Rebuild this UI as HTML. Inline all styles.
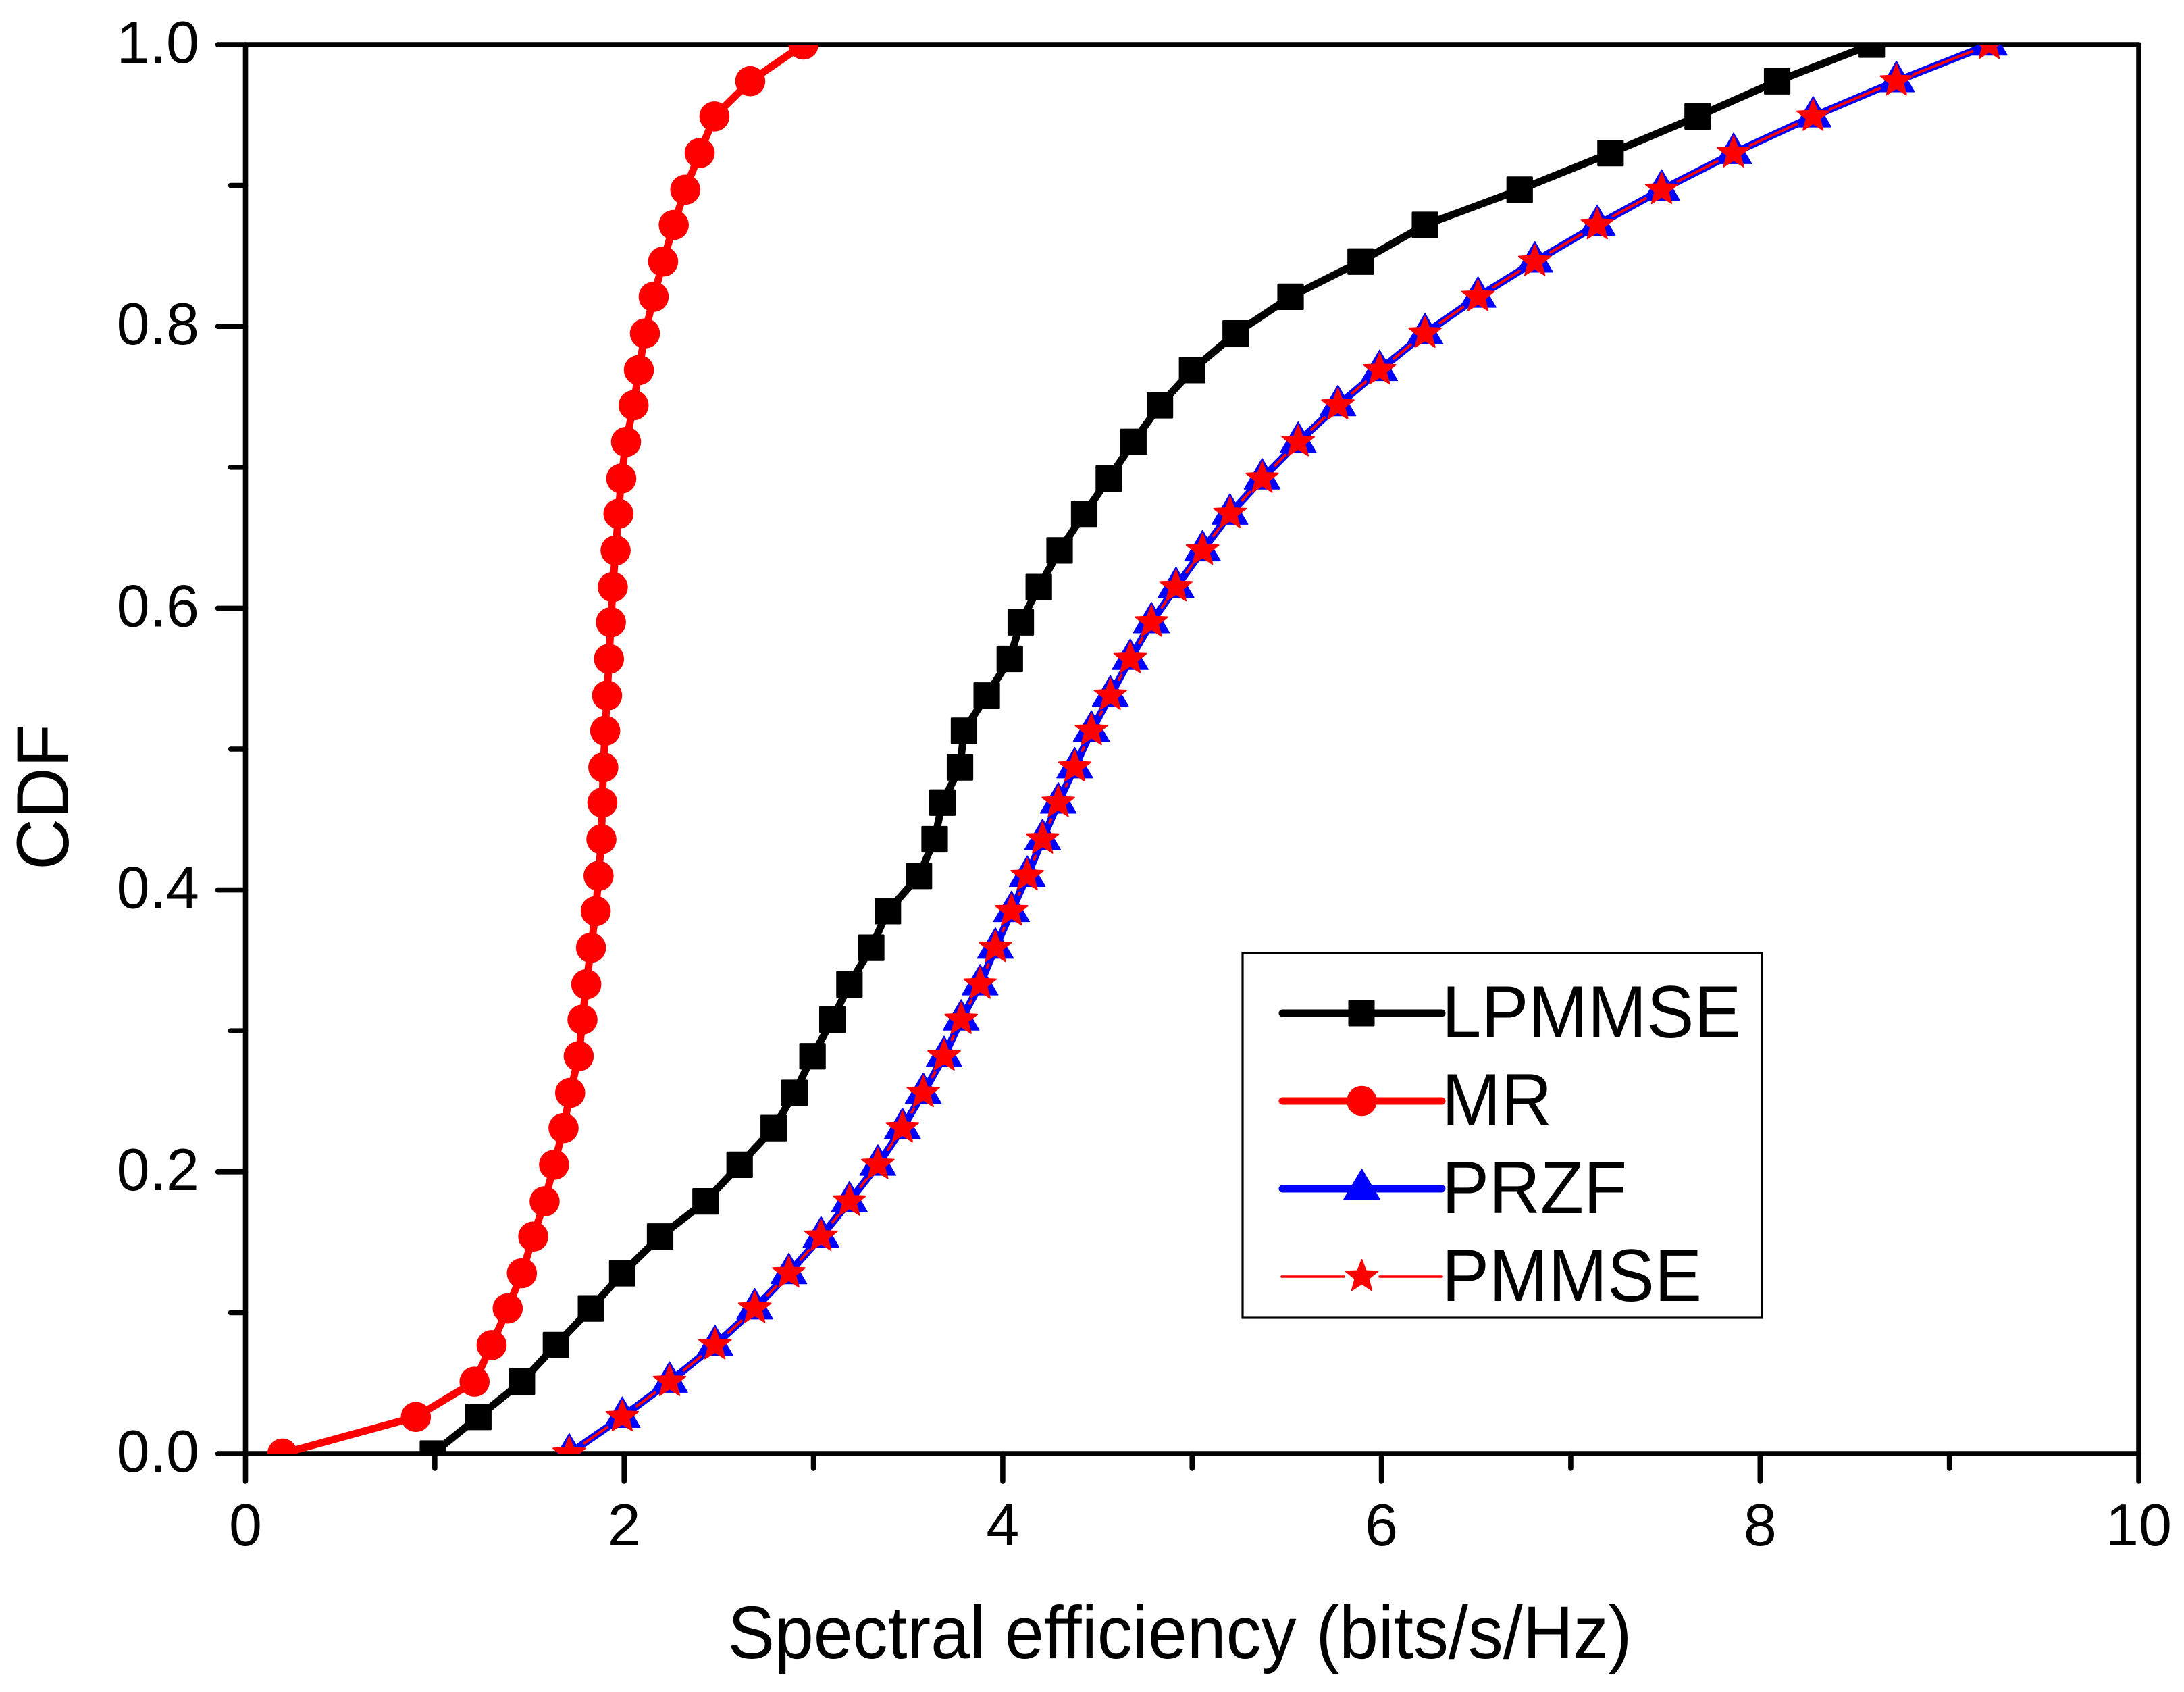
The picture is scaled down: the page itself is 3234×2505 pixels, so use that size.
<!DOCTYPE html>
<html lang="en">
<head>
<meta charset="utf-8">
<title>CDF of spectral efficiency</title>
<style>
html,body{margin:0;padding:0;background:#fff;}
svg{display:block;}
text{font-family:"Liberation Sans",Arial,sans-serif;fill:#000;}
</style>
</head>
<body>
<svg id="chart" xmlns="http://www.w3.org/2000/svg" width="3234" height="2505" viewBox="0 0 3234 2505">
  <defs>
    <clipPath id="plot-clip"><rect x="363.5" y="66" width="2803.5" height="2086"/></clipPath>
  </defs>
  <rect x="0" y="0" width="3234" height="2505" fill="#fff"/>
  <g id="axes"></g>
  <g id="series" clip-path="url(#plot-clip)"></g>
  <text x="0" y="0" font-size="110" text-anchor="middle" transform="translate(1747 2455) scale(.9455 1)">Spectral efficiency (bits/s/Hz)</text>
  <text x="0" y="0" font-size="110" text-anchor="middle" transform="translate(101 1180) rotate(-90) scale(.9545 1)">CDF</text>
  <g id="legend">
    <rect x="1840" y="1411" width="769" height="540" fill="#fff" stroke="#000" stroke-width="3.2"/>
    <g>
      <line x1="1899" y1="1500" x2="2135" y2="1500" stroke="#000" stroke-width="11" stroke-linecap="round"/>
      <rect x="1996.5" y="1480.5" width="39" height="39" rx="1.5" fill="#000"/>
      <text x="0" y="0" font-size="110" transform="translate(2135 1536) scale(.9545 1)">LPMMSE</text>
    </g>
    <g>
      <line x1="1899" y1="1630" x2="2135" y2="1630" stroke="#f00" stroke-width="11" stroke-linecap="round"/>
      <circle cx="2016.5" cy="1630" r="22.3" fill="#f00"/>
      <text x="0" y="0" font-size="110" transform="translate(2135 1666) scale(.9545 1)">MR</text>
    </g>
    <g>
      <line x1="1899" y1="1760" x2="2135" y2="1760" stroke="#00f" stroke-width="11" stroke-linecap="round"/>
      <polygon points="2016.5,1731 2043,1775.5 1990,1775.5" fill="#00f" stroke="#00f" stroke-width="1.5" stroke-linejoin="round"/>
      <text x="0" y="0" font-size="110" transform="translate(2135 1796) scale(.9545 1)">PRZF</text>
    </g>
    <g>
      <line x1="1898" y1="1890" x2="1990" y2="1890" stroke="#f00" stroke-width="3.6" stroke-linecap="round"/>
      <line x1="2043" y1="1890" x2="2135" y2="1890" stroke="#f00" stroke-width="3.6" stroke-linecap="round"/>
      <polygon id="legend-star" fill="#f00" stroke="#f00" stroke-width="2" stroke-linejoin="round"/>
      <text x="0" y="0" font-size="110" transform="translate(2135 1926) scale(.9545 1)">PMMSE</text>
    </g>
  </g>
</svg>
<script>
const cdfLevels = [0.000,0.026,0.051,0.077,0.103,0.128,0.154,0.179,0.205,0.231,0.256,0.282,0.308,0.333,0.359,0.385,0.410,0.436,0.462,0.487,0.513,0.538,0.564,0.590,0.615,0.641,0.667,0.692,0.718,0.744,0.769,0.795,0.821,0.846,0.872,0.897,0.923,0.949,0.974,1.000];
const lpmmseValues = [0.99,1.23,1.46,1.64,1.825,1.99,2.19,2.43,2.61,2.79,2.90,2.995,3.10,3.19,3.305,3.393,3.557,3.640,3.681,3.774,3.795,3.915,4.037,4.095,4.19,4.30,4.43,4.56,4.69,4.83,5.00,5.23,5.52,5.89,6.23,6.73,7.21,7.67,8.09,8.59];
const mrValues = [0.195,0.90,1.21,1.30,1.385,1.46,1.52,1.58,1.63,1.68,1.715,1.76,1.78,1.80,1.825,1.85,1.865,1.88,1.885,1.89,1.90,1.91,1.92,1.93,1.94,1.955,1.97,1.985,2.01,2.05,2.078,2.110,2.156,2.206,2.262,2.323,2.399,2.477,2.666,2.947];
const przfValues = [1.71,1.99,2.24,2.48,2.69,2.87,3.04,3.19,3.34,3.47,3.58,3.69,3.78,3.88,3.961,4.046,4.129,4.21,4.293,4.38,4.468,4.568,4.673,4.785,4.915,5.055,5.20,5.37,5.56,5.77,5.99,6.23,6.51,6.81,7.14,7.48,7.86,8.28,8.72,9.21];
const pmmseValues = [1.71,1.99,2.24,2.48,2.69,2.87,3.04,3.19,3.34,3.47,3.58,3.69,3.78,3.88,3.961,4.046,4.129,4.21,4.293,4.38,4.468,4.568,4.673,4.785,4.915,5.055,5.20,5.37,5.56,5.77,5.99,6.23,6.51,6.81,7.14,7.48,7.86,8.28,8.72,9.21];
const xTickValues = [0,2,4,6,8,10];
const xTickLabels = ["0","2","4","6","8","10"];
const xMinorTickValues = [1,3,5,7,9];
const yTickValues = [0,0.2,0.4,0.6,0.8,1.0];
const yTickLabels = ["0.0","0.2","0.4","0.6","0.8","1.0"];
const yMinorTickValues = [0.1,0.3,0.5,0.7,0.9];

const NS = 'http://www.w3.org/2000/svg';
const X0 = 363.5, X1 = 3167, Y0 = 2152, Y1 = 66;
function xScale(v){ return X0 + (v / 10) * (X1 - X0); }
function yScale(v){ return Y0 - v * (Y0 - Y1); }
function make(tag, attrs, parent){
  const el = document.createElementNS(NS, tag);
  for (const k in attrs) el.setAttribute(k, attrs[k]);
  parent.appendChild(el);
  return el;
}
function starPoints(cx, cy, R, r){
  const pts = [];
  for (let i = 0; i < 10; i++){
    const a = -Math.PI / 2 + i * Math.PI / 5;
    const rad = i % 2 === 0 ? R : r;
    pts.push((cx + rad * Math.cos(a)).toFixed(2) + ',' + (cy + rad * Math.sin(a)).toFixed(2));
  }
  return pts.join(' ');
}

const axesGroup = document.getElementById('axes');
const axisStyle = {stroke:'#000','stroke-width':7.6,'stroke-linecap':'round',fill:'none'};

const leftAxis = make('line', Object.assign({x1:X0,y1:Y1,x2:X0,y2:Y0}, axisStyle), axesGroup);


const bottomAxis = make('line', Object.assign({x1:X0,y1:Y0,x2:X1,y2:Y0}, axisStyle), axesGroup);


const topAxis = make('line', Object.assign({x1:X0,y1:Y1,x2:X1,y2:Y1}, axisStyle), axesGroup);


const rightAxis = make('line', Object.assign({x1:X1,y1:Y1,x2:X1,y2:Y0}, axisStyle), axesGroup);



xTickValues.forEach(function(v, i){
  const tick = make('line', Object.assign({x1:xScale(v),y1:Y0,x2:xScale(v),y2:Y0+41}, axisStyle), axesGroup);
  
  
  const label = make('text', {x:xScale(v),y:2288,'font-size':88,'text-anchor':'middle'}, axesGroup);
  label.textContent = xTickLabels[i];
  
  
});
xMinorTickValues.forEach(function(v){
  const tick = make('line', Object.assign({x1:xScale(v),y1:Y0,x2:xScale(v),y2:Y0+22}, axisStyle), axesGroup);
  
  
});
yTickValues.forEach(function(v, i){
  const tick = make('line', Object.assign({x1:X0,y1:yScale(v),x2:X0-41,y2:yScale(v)}, axisStyle), axesGroup);
  
  
  const label = make('text', {x:295,y:yScale(v)+27,'font-size':88,'text-anchor':'end'}, axesGroup);
  label.textContent = yTickLabels[i];
  
  
});
yMinorTickValues.forEach(function(v){
  const tick = make('line', Object.assign({x1:X0,y1:yScale(v),x2:X0-22,y2:yScale(v)}, axisStyle), axesGroup);
  
  
});

const seriesGroup = document.getElementById('series');
function polyPoints(xs){
  return xs.map(function(v, i){ return xScale(v).toFixed(2) + ',' + yScale(cdfLevels[i]).toFixed(2); }).join(' ');
}

const lpmmseLine = make('polyline', {points:polyPoints(lpmmseValues),fill:'none',stroke:'#000','stroke-width':11,'stroke-linejoin':'round'}, seriesGroup);


lpmmseValues.forEach(function(v, i){
  const m = make('rect', {x:xScale(v)-19.6,y:yScale(cdfLevels[i])-19.6,width:39.2,height:39.2,rx:1.5,fill:'#000'}, seriesGroup);
  
  
});

const mrLine = make('polyline', {points:polyPoints(mrValues),fill:'none',stroke:'#f00','stroke-width':11,'stroke-linejoin':'round'}, seriesGroup);


mrValues.forEach(function(v, i){
  const m = make('circle', {cx:xScale(v),cy:yScale(cdfLevels[i]),r:22.3,fill:'#f00'}, seriesGroup);
  
  
});

const przfLine = make('polyline', {points:polyPoints(przfValues),fill:'none',stroke:'#00f','stroke-width':11,'stroke-linejoin':'round'}, seriesGroup);


przfValues.forEach(function(v, i){
  const cx = xScale(v), cy = yScale(cdfLevels[i]);
  const pts = cx.toFixed(2)+','+(cy-29.5).toFixed(2)+' '+(cx+26.5).toFixed(2)+','+(cy+15.5).toFixed(2)+' '+(cx-26.5).toFixed(2)+','+(cy+15.5).toFixed(2);
  const m = make('polygon', {points:pts,fill:'#00f',stroke:'#00f','stroke-width':1.5,'stroke-linejoin':'round'}, seriesGroup);
  
  
});

const GAP = 27;
pmmseValues.forEach(function(v, i){
  if (i === pmmseValues.length - 1) return;
  const ax = xScale(v), ay = yScale(cdfLevels[i]);
  const bx = xScale(pmmseValues[i+1]), by = yScale(cdfLevels[i+1]);
  const d = Math.hypot(bx-ax, by-ay);
  if (d <= 2 * GAP) return;
  const ux = (bx-ax)/d, uy = (by-ay)/d;
  const seg = make('line', {x1:ax+ux*GAP,y1:ay+uy*GAP,x2:bx-ux*GAP,y2:by-uy*GAP,stroke:'#f00','stroke-width':4,'stroke-linecap':'round'}, seriesGroup);
  
  
});
pmmseValues.forEach(function(v, i){
  const m = make('polygon', {points:starPoints(xScale(v),yScale(cdfLevels[i]),25,10.5),fill:'#f00',stroke:'#f00','stroke-width':2,'stroke-linejoin':'round'}, seriesGroup);
  
  
});

document.getElementById('legend-star').setAttribute('points', starPoints(2016.5, 1890, 25, 10.5));
</script>
</body>
</html>
